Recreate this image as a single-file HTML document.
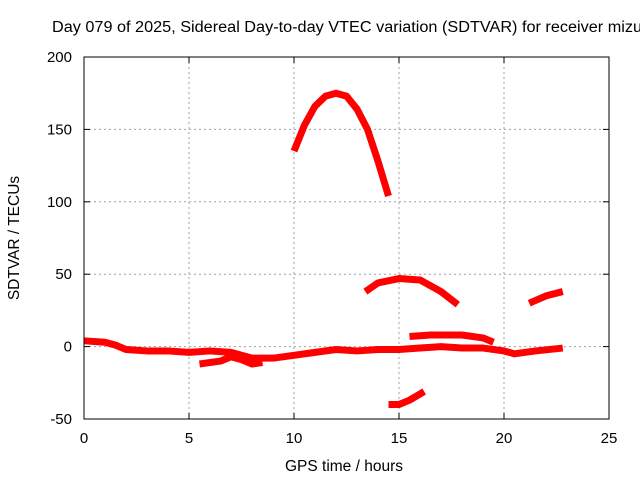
<!DOCTYPE html>
<html><head><meta charset="utf-8"><style>
body{margin:0;background:#fff}
svg{display:block;font-family:"Liberation Sans",sans-serif}
</style></head><body>
<svg id="chart" width="640" height="480" viewBox="0 0 640 480" xmlns="http://www.w3.org/2000/svg">
<rect width="640" height="480" fill="#fff"/>
<text x="52" y="32" font-size="15.5" textLength="590" lengthAdjust="spacingAndGlyphs">Day 079 of 2025, Sidereal Day-to-day VTEC variation (SDTVAR) for receiver mizu</text>
<text x="344" y="471" font-size="15.5" text-anchor="middle">GPS time / hours</text>
<text transform="translate(19,238) rotate(-90)" font-size="15.5" text-anchor="middle">SDTVAR / TECUs</text>
<g id="grid"></g><g id="ticks"></g><g id="series"></g>
<rect x="84" y="57" width="525" height="362" fill="none" stroke="#000" stroke-width="1"/>
</svg>
<script>
const xTicks=[0,5,10,15,20,25];
const yTicks=[-50,0,50,100,150,200];
const trackMainX=[0,1,1.5,2,3,4,5,6,7,7.5,8,9,10,11,12,13,14,15,16,17,18,19,20,20.5,21.5,22.8];
const trackMainY=[4,3,1,-2,-3,-3,-4,-3,-4,-6,-8,-8,-6,-4,-2,-3,-2,-2,-1,0,-1,-1,-3,-5,-3,-1];
const trackLowX=[5.5,6.5,7,7.5,8,8.5];
const trackLowY=[-12,-10,-7,-9,-12,-11];
const trackArcX=[10,10.5,11,11.5,12,12.5,13,13.5,14,14.5];
const trackArcY=[135,153,166,173,175,173,164,150,128,104];
const trackMidX=[13.4,14,15,16,17,17.8];
const trackMidY=[38,44,47,46,38,29];
const trackUpX=[15.5,16.5,18,19,19.5];
const trackUpY=[7,8,8,6,3];
const trackNegX=[14.5,15,15.5,16.2];
const trackNegY=[-40,-40,-37,-31];
const trackLateX=[21.2,22,22.8];
const trackLateY=[30,35,38];
const X=v=>84+v*21, Y=v=>346.6-v*1.448;
const NS="http://www.w3.org/2000/svg";
const grid=document.getElementById('grid'),ticks=document.getElementById('ticks'),ser=document.getElementById('series');
function mk(t,a,p){const e=document.createElementNS(NS,t);for(const k in a)e.setAttribute(k,a[k]);p.appendChild(e);return e;}
xTicks.forEach(v=>{const x=X(v);
 if(v>0&&v<25){const g=mk('line',{x1:x,x2:x,y1:57,y2:419,stroke:'#a0a0a0','stroke-dasharray':'2,3'},grid);
 
 }
 mk('line',{x1:x,x2:x,y1:419,y2:413,stroke:'#000'},ticks);mk('line',{x1:x,x2:x,y1:57,y2:63,stroke:'#000'},ticks);
 const t=mk('text',{x:x,y:443,'font-size':15,'text-anchor':'middle'},ticks);t.textContent=v;
 
 });
yTicks.forEach(v=>{const y=Y(v);
 if(v>-50&&v<200){const g=mk('line',{x1:84,x2:609,y1:y,y2:y,stroke:'#a0a0a0','stroke-dasharray':'2,3'},grid);
 
 }
 mk('line',{x1:84,x2:90,y1:y,y2:y,stroke:'#000'},ticks);mk('line',{x1:609,x2:603,y1:y,y2:y,stroke:'#000'},ticks);
 const t=mk('text',{x:72,y:y+5,'font-size':15,'text-anchor':'end'},ticks);t.textContent=v;
 
 });
[[trackMainX,trackMainY],[trackLowX,trackLowY],[trackArcX,trackArcY],[trackMidX,trackMidY],[trackUpX,trackUpY],[trackNegX,trackNegY],[trackLateX,trackLateY]].forEach((tr,i)=>{
 const pts=tr[0].map((x,j)=>X(x)+','+Y(tr[1][j])).join(' ');
 const p=mk('polyline',{points:pts,fill:'none',stroke:'#ff0000','stroke-width':7,'stroke-linejoin':'round','stroke-linecap':'butt'},ser);
 
 });
</script>
</body></html>
